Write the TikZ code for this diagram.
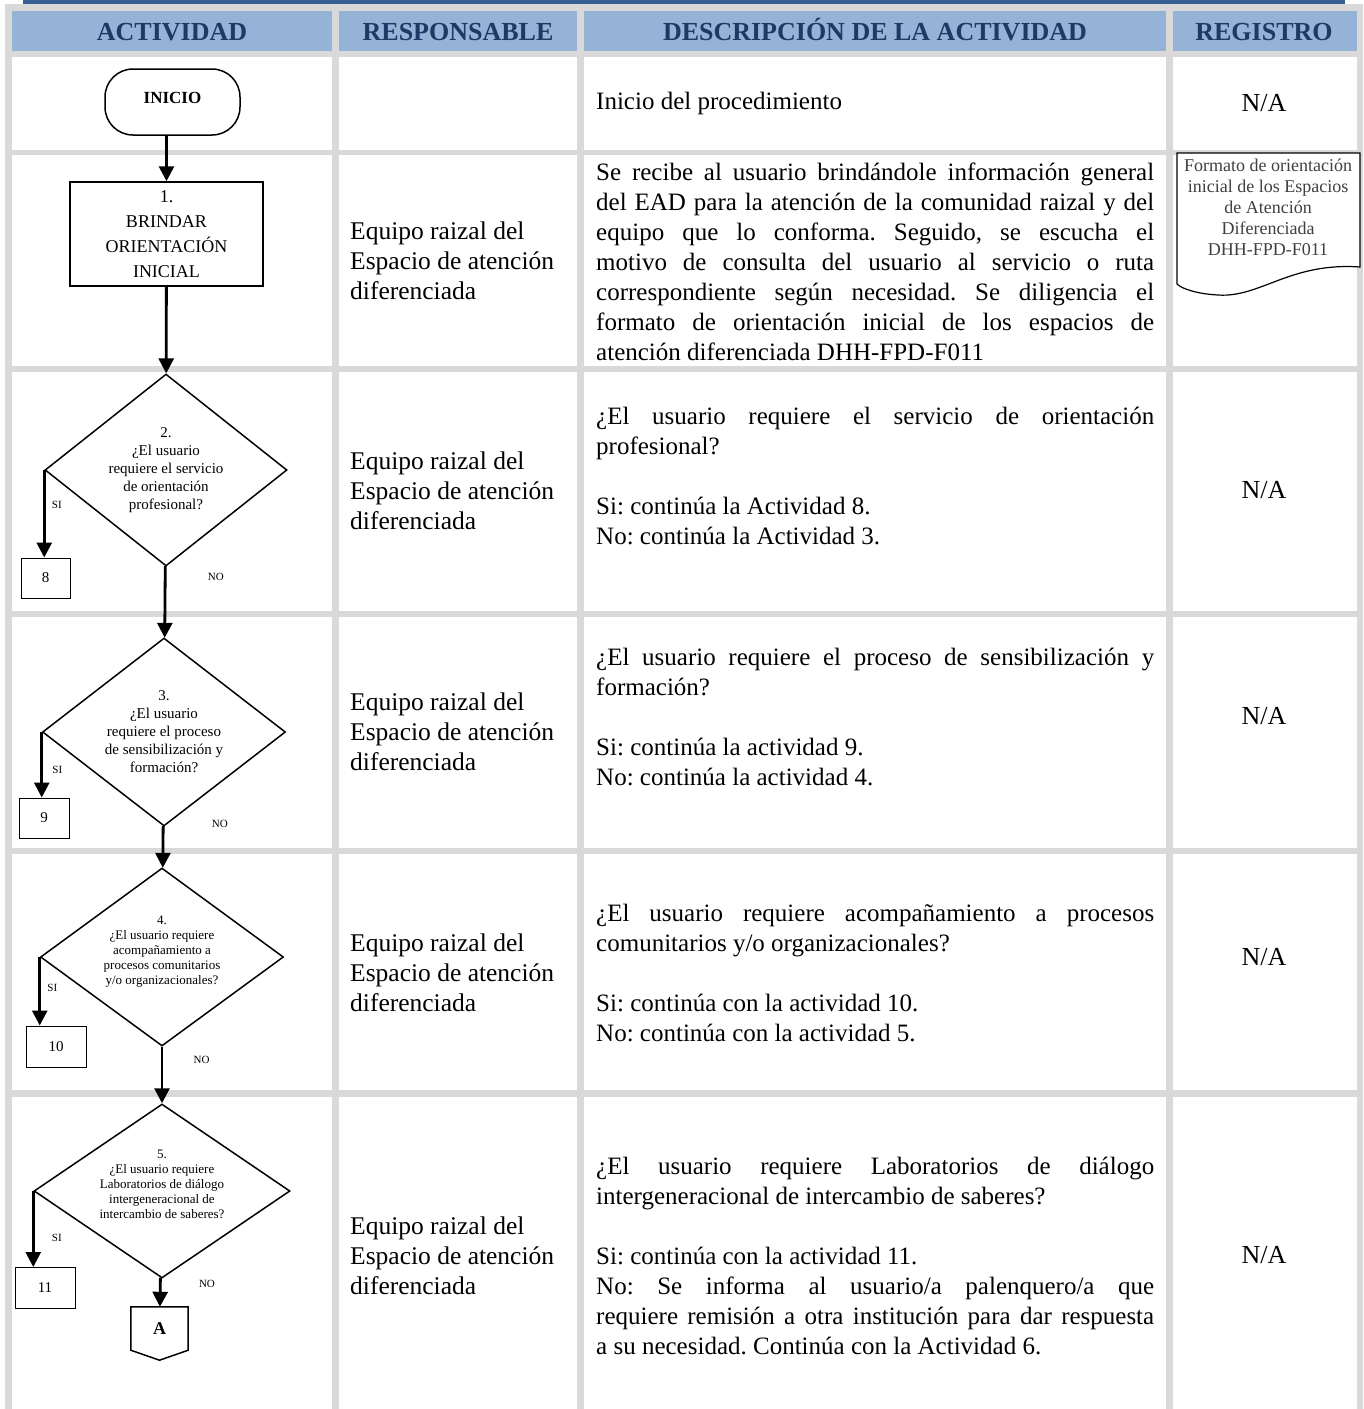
\documentclass[tikz,border=0pt]{standalone}
\usepackage{fontspec}
\setmainfont{Liberation Serif}
\frenchspacing
\usetikzlibrary{positioning, arrows.meta, shapes.geometric, calc}
\definecolor{barblue}{RGB}{54, 96, 146}
\definecolor{headblue}{RGB}{149, 179, 215}
\definecolor{headtext}{RGB}{31, 56, 100}
\definecolor{gridgray}{RGB}{217, 217, 217}
\definecolor{doctext}{RGB}{64, 64, 64}

\begin{document}
\begin{tikzpicture}[
    x=1pt, y=-1pt,
    >={Triangle[length=15pt, width=15pt]},
    % Styles definition
    header/.style={anchor=base, font=\fontsize{26}{30}\selectfont\bfseries, text=headtext},
    resp/.style={anchor=west, align=left, inner sep=0pt, font=\fontsize{25.5}{30}\selectfont},
    desc/.style={anchor=west, text width=558pt, align=justify, inner sep=0pt, font=\fontsize{25}{30}\selectfont},
    reg/.style={font=\fontsize{26}{30}\selectfont},
    terminal/.style={draw, line width=1.5pt, rounded corners=28pt, minimum width=135pt, minimum height=66pt, text depth=9pt, font=\fontsize{17}{20}\selectfont\bfseries},
    process/.style={draw, line width=1.5pt, minimum width=193pt, minimum height=104pt, align=center, font=\fontsize{18}{25}\selectfont},
    decision/.style={draw, diamond, line width=1.5pt, inner sep=0pt, align=center},
    bigq/.style={font=\fontsize{15}{18}\selectfont},
    smallq/.style={font=\fontsize{13}{15}\selectfont, text depth=13pt},
    refbox/.style={draw, line width=1pt, font=\fontsize{15}{18}\selectfont},
    connector/.style={minimum width=57pt, minimum height=43pt, font=\fontsize{18}{20}\selectfont\bfseries},
    branch/.style={font=\fontsize{11}{13}\selectfont},
    arrow/.style={->, line width=2.8pt},
    docfmt/.style={font=\fontsize{18}{21}\selectfont, text=doctext, align=center}
]
\useasboundingbox (0,0) rectangle (1364,1409);

% Table grid
\fill[gridgray] (5,4) rectangle (1363,1409);
\fill[barblue] (23,0) rectangle (1345,4);
\foreach \xa/\xb in {12/332, 339/577, 584/1166, 1173/1357} {
    \fill[headblue] (\xa,11) rectangle (\xb,51);
    \foreach \ya/\yb in {57/150, 155/366, 372/611, 617/848, 854/1090, 1097/1409}
        \fill[white] (\xa,\ya) rectangle (\xb,\yb);
}

% Header
\node[header] (hact) at (172,40) {ACTIVIDAD};
\node[header] (hresp) at (458,40) {RESPONSABLE};
\node[header] (hdesc) at (875,40) {DESCRIPCIÓN DE LA ACTIVIDAD};
\node[header] (hreg) at (1264,40) {REGISTRO};

% 1. Flowchart column
\node[terminal] (inicio) at (172.5,102) {INICIO};
\node[process] (act1) at (166.5,234) {1.\\BRINDAR\\ORIENTACIÓN\\INICIAL};
\node[decision, bigq, minimum width=242pt, minimum height=192pt, aspect=1.26] (act2) at (166,470)
    {2.\\¿El usuario\\requiere el servicio\\de orientación\\profesional?};
\node[refbox, minimum width=49pt, minimum height=40pt] (ref8) at (45.5,578) {8};
\node[decision, bigq, minimum width=243pt, minimum height=188pt, aspect=1.29] (act3) at (164,732)
    {3.\\¿El usuario\\requiere el proceso\\de sensibilización y\\formación?};
\node[refbox, minimum width=50pt, minimum height=40pt] (ref9) at (44,818) {9};
\node[decision, smallq, minimum width=243pt, minimum height=178pt, aspect=1.37] (act4) at (162,957)
    {4.\\¿El usuario requiere\\acompañamiento a\\procesos comunitarios\\y/o organizacionales?};
\node[refbox, minimum width=60pt, minimum height=41pt] (ref10) at (56,1046.5) {10};
\node[decision, smallq, minimum width=256pt, minimum height=174pt, aspect=1.47] (act5) at (162,1191)
    {5.\\¿El usuario requiere\\Laboratorios de diálogo\\intergeneracional de\\intercambio de saberes?};
\node[refbox, minimum width=60pt, minimum height=41pt] (ref11) at (45,1288) {11};
\node[connector] (conA) at (159.5,1328.5) {A};
\draw[line width=1.5pt] (conA.north west) -- (conA.north east) -- (conA.south east)
    -- ($(conA.south)+(0,10)$) -- (conA.south west) -- cycle;

% Arrows
\draw[arrow] (inicio.south -| act1.north) -- (act1.north);
\draw[arrow] (act1) -- (act2);
\draw[arrow] (act2.west) -- node[branch, pos=0.4, right=3pt] {SI} (act2.west |- ref8.north);
\draw[arrow] (act2) -- node[branch, pos=0.15, right=38pt] {NO} (act3);
\draw[arrow] (act3.west) -- node[branch, pos=0.58, right=6pt] {SI} (act3.west |- ref9.north);
\draw[arrow] (act3) -- node[branch, pos=0, right=44pt, yshift=2pt] {NO} (act4);
\draw[arrow] (act4.west) -- node[branch, pos=0.45, right=3pt] {SI} (act4.west |- ref10.north);
\draw[arrow] (act4) -- node[branch, pos=0.24, right=27pt] {NO} (act5);
\draw[arrow] (act5.west) -- node[branch, pos=0.62, right=14pt] {SI} (act5.west |- ref11.north);
\draw[arrow] (act5) -- node[branch, pos=0.2, right=34pt] {NO} (conA);

% 2. Responsable column
\node[resp] (resp2) at (350,261) {Equipo raizal del\\Espacio de atención\\diferenciada};
\node[resp] (resp3) at (350,491) {Equipo raizal del\\Espacio de atención\\diferenciada};
\node[resp] (resp4) at (350,732) {Equipo raizal del\\Espacio de atención\\diferenciada};
\node[resp] (resp5) at (350,973) {Equipo raizal del\\Espacio de atención\\diferenciada};
\node[resp] (resp6) at (350,1256) {Equipo raizal del\\Espacio de atención\\diferenciada};

% 3. Description column
\node[desc] (desc1) at (596,103) {Inicio del procedimiento};
\node[desc] (desc2) at (596,262) {Se recibe al usuario brindándole información general\linebreak
    del EAD para la atención de la comunidad raizal y del\linebreak
    equipo que lo conforma. Seguido, se escucha el\linebreak
    motivo de consulta del usuario al servicio o ruta\linebreak
    correspondiente según necesidad. Se diligencia el\linebreak
    formato de orientación inicial de los espacios de\linebreak
    atención diferenciada DHH-FPD-F011};
\node[desc] (desc3) at (596,476) {¿El usuario requiere el servicio de orientación\linebreak
    profesional?\\[30pt]Si: continúa la Actividad 8.\\No: continúa la Actividad 3.};
\node[desc] (desc4) at (596,717) {¿El usuario requiere el proceso de sensibilización y\linebreak
    formación?\\[30pt]Si: continúa la actividad 9.\\No: continúa la actividad 4.};
\node[desc] (desc5) at (596,973) {¿El usuario requiere acompañamiento a procesos\linebreak
    comunitarios y/o organizacionales?\\[30pt]Si: continúa con la actividad 10.\\No: continúa con la actividad 5.};
\node[desc] (desc6) at (596,1256) {¿El usuario requiere Laboratorios de diálogo\linebreak
    intergeneracional de intercambio de saberes?\\[30pt]Si: continúa con la actividad 11.\\No: Se informa al usuario/a palenquero/a que\linebreak
    requiere remisión a otra institución para dar respuesta\linebreak
    a su necesidad. Continúa con la Actividad 6.};

% 4. Registro column
\node[reg] (reg1) at (1264,103) {N/A};
\draw[line width=1.2pt, fill=white] (1177,153) -- (1360,153) -- (1360,267)
    .. controls (1290,262) and (1260,298) .. (1218,295)
    .. controls (1198,294) and (1182,289) .. (1177,284) -- cycle;
\node[docfmt] (reg2) at (1268,207) {Formato de orientación\\inicial de los Espacios\\de Atención\\Diferenciada\\DHH-FPD-F011};
\node[reg] (reg3) at (1264,490) {N/A};
\node[reg] (reg4) at (1264,716) {N/A};
\node[reg] (reg5) at (1264,957) {N/A};
\node[reg] (reg6) at (1264,1255) {N/A};

\end{tikzpicture}
\end{document}
